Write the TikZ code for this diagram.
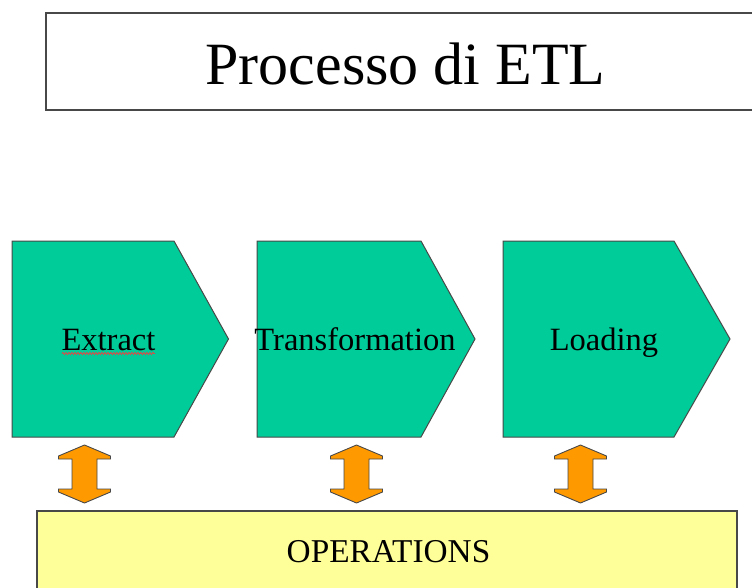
\documentclass[tikz,border=0pt]{standalone}
\usepackage{fontspec}
\setmainfont{Liberation Serif}
\usetikzlibrary{decorations.pathmorphing}
\definecolor{stepgreen}{HTML}{00CC99}
\definecolor{opsyellow}{HTML}{FFFF99}
\definecolor{linkorange}{HTML}{FF9900}
\definecolor{edgegray}{HTML}{484848}
\definecolor{spellred}{HTML}{E04848}

% vertical two-headed block arrow centred at x = #1
\newcommand{\linkarrow}[2]{%
  \draw[linkarrow] (#1,445) -- ++(26,11) -- ++(0,3) -- ++(-13.5,0) -- ++(0,30)
    -- ++(13.5,0) -- ++(0,3) -- (#1,503) -- ++(-26,-11) -- ++(0,-3) -- ++(13.5,0)
    -- ++(0,-30) -- ++(-13.5,0) -- ++(0,-3) -- cycle;
  \coordinate (#2) at (#1,474);}

\begin{document}
\begin{tikzpicture}[x=1pt,y=-1pt,
  frame/.style={draw=edgegray,line width=1.2pt},
  stepbox/.style={draw=edgegray,line width=1pt,fill=stepgreen,line join=miter},
  steplabel/.style={anchor=base,font=\fontsize{32.5}{38}\selectfont,inner sep=0pt},
  linkarrow/.style={draw=edgegray,line width=0.9pt,fill=linkorange,line join=miter},
  opsbox/.style={draw=edgegray,line width=1.2pt,fill=opsyellow}]
\useasboundingbox (0,0) rectangle (752,587);
\clip (0,0) rectangle (752,587);

% title
\draw[frame] (46,13) rectangle (770,110);
\node[anchor=base,inner sep=0pt,font=\fontsize{60}{70}\selectfont] (title) at (405.5,84) {Processo di ETL};

% process steps
\draw[stepbox] (12,241) -- (174,241) -- (228.5,339) -- (174,437) -- (12,437) -- cycle;
\node[steplabel] (extract) at (108.5,350) {Extract};
\draw[spellred,line width=0.8pt,decorate,decoration={snake,amplitude=1.1pt,segment length=3pt}]
  (62,353.5) -- (155,353.5);

\draw[stepbox] (257,241) -- (421,241) -- (475,339) -- (421,437) -- (257,437) -- cycle;
\node[steplabel] (transform) at (355,350) {Transformation};

\draw[stepbox] (503,241) -- (674,241) -- (730,339) -- (674,437) -- (503,437) -- cycle;
\node[steplabel] (loading) at (604,350) {Loading};

% operations layer
\draw[opsbox] (37,511) rectangle (737,600);
\node[anchor=base,inner sep=0pt,font=\fontsize{33.3}{40}\selectfont] (ops) at (388.5,562) {OPERATIONS};

% links between steps and operations
\linkarrow{84.5}{linkA}
\linkarrow{356.5}{linkB}
\linkarrow{580.5}{linkC}
\end{tikzpicture}
\end{document}
